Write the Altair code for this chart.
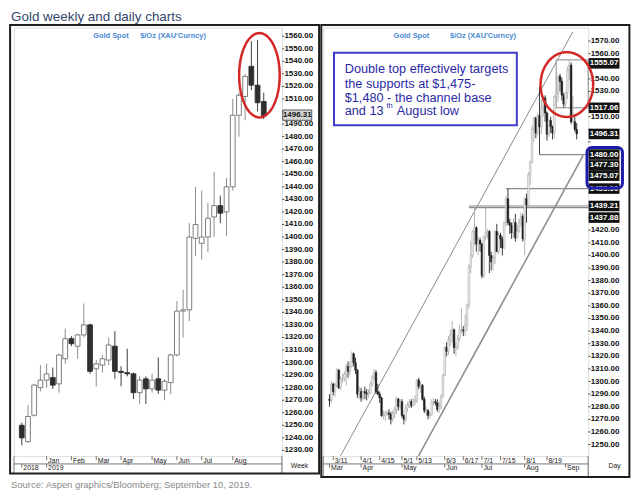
import altair as alt
import pandas as pd
import numpy as np

FONT = "Liberation Sans"

# ---------------- texts ----------------
title_text = "Gold weekly and daily charts"
source_text = "Source: Aspen graphics/Bloomberg; September 10, 2019."
header_a = "Gold  Spot"
header_b = "$/Oz  (XAU'Curncy)"
note_lines = ["Double top effectively targets", "the supports at $1,475-", "$1,480 - the channel base"]
note_last = ["and 13", "th", "August low"]

# ---------------- weekly candles (weeks from Mon 10 Dec 2018) ----------------
wk_open = [1250, 1237, 1258, 1280, 1286, 1288, 1283, 1303, 1319, 1313, 1322, 1330, 1295, 1298, 1302, 1313, 1293, 1292, 1291, 1276,
           1287, 1279, 1287, 1278, 1284, 1306, 1341, 1342, 1399, 1395, 1400, 1416, 1425, 1420, 1440, 1497, 1512, 1536, 1521, 1508]
wk_high = [1252, 1266, 1283, 1298, 1299, 1296, 1307, 1327, 1321, 1323, 1347, 1331, 1302, 1306, 1320, 1325, 1297, 1311, 1292, 1289,
           1289, 1291, 1304, 1287, 1307, 1349, 1358, 1411, 1440, 1437, 1427, 1452, 1433, 1447, 1510, 1515, 1530, 1556, 1557, 1515]
wk_low = [1234, 1236, 1257, 1277, 1280, 1279, 1276, 1299, 1313, 1303, 1320, 1291, 1281, 1292, 1298, 1287, 1281, 1289, 1271, 1267,
          1267, 1276, 1275, 1270, 1275, 1305, 1320, 1333, 1385, 1382, 1388, 1400, 1411, 1401, 1437, 1480, 1493, 1517, 1500, 1494]
wk_close = [1240, 1257, 1282, 1286, 1291, 1282, 1306, 1319, 1315, 1322, 1330, 1293, 1299, 1303, 1314, 1293, 1292, 1291, 1276, 1286,
            1279, 1286, 1278, 1285, 1306, 1341, 1342, 1400, 1410, 1400, 1415, 1425, 1419, 1440, 1497, 1513, 1528, 1521, 1507, 1496.31]
wk_month_labels = ["Jan", "Feb", "Mar", "Apr", "May", "Jun", "Jul", "Aug"]
wk_month_pos = [4, 8, 12, 16, 21, 25, 29, 34]
wk_year_labels = ["2018", "2019"]
wk_year_pos = [0, 4]
wk_ticks = list(range(1230, 1561, 10))
wk_hidden = [1500]                      # tick labels covered by the price tag
wk_last_val = [1496.31]
wk_last_txt = ["1496.31"]

# ---------------- daily bars (7 Mar - 10 Sep 2019) ----------------
d_open = ([1286, 1285, 1298, 1292, 1297, 1309, 1295, 1302, 1302, 1306, 1312, 1308, 1312, 1322, 1315, 1309, 1290]
          + [1292, 1287, 1292, 1291, 1290, 1291, 1298, 1303, 1307, 1292, 1290, 1287, 1273, 1273, 1275, 1275, 1274, 1270, 1275, 1278, 1286, 1280]
          + [1284, 1273, 1270, 1279, 1281, 1284, 1281, 1284, 1285, 1301, 1296, 1297, 1286, 1277, 1277, 1273, 1274, 1283, 1284, 1283, 1278, 1280, 1288]
          + [1305, 1327, 1324, 1333, 1337, 1341, 1327, 1327, 1334, 1341, 1341, 1340, 1345, 1361, 1391, 1400, 1419, 1422, 1409, 1412]
          + [1409, 1384, 1415, 1418, 1419, 1400, 1395, 1398, 1419, 1403, 1416, 1413, 1406, 1426, 1445, 1426, 1424, 1418, 1426, 1414, 1419, 1426, 1431]
          + [1413, 1445, 1440, 1464, 1474, 1500, 1509, 1497, 1511, 1502, 1517, 1525, 1513, 1496, 1507, 1502, 1497, 1526, 1528, 1542, 1538, 1527]
          + [1520, 1529, 1547, 1551, 1506, 1506, 1500])
d_high = ([1290, 1300, 1299, 1299, 1311, 1310, 1304, 1306, 1308, 1314, 1316, 1316, 1324, 1323, 1319, 1310, 1296]
          + [1295, 1293, 1296, 1294, 1294, 1300, 1305, 1310, 1309, 1298, 1292, 1288, 1277, 1277, 1277, 1278, 1276, 1277, 1280, 1288, 1287, 1286]
          + [1286, 1274, 1282, 1284, 1286, 1286, 1287, 1289, 1302, 1303, 1300, 1298, 1288, 1280, 1278, 1276, 1286, 1287, 1286, 1286, 1284, 1290, 1306]
          + [1328, 1331, 1336, 1341, 1348, 1342, 1331, 1337, 1345, 1358, 1344, 1353, 1362, 1393, 1411, 1420, 1439.21, 1423, 1415, 1414]
          + [1410, 1415, 1437.88, 1421, 1420, 1403, 1400, 1420, 1425, 1418, 1418, 1415, 1427, 1447, 1453, 1429, 1426, 1429, 1433, 1424, 1429, 1434, 1433]
          + [1446, 1449, 1466, 1475, 1503, 1510, 1510, 1513, 1534, 1524, 1525, 1527, 1514, 1508, 1510, 1503, 1527, 1555.07, 1543, 1544, 1541, 1529]
          + [1530, 1550, 1556, 1553, 1526, 1510, 1505])
d_low = ([1280, 1283, 1289, 1288, 1295, 1294, 1293, 1299, 1300, 1297, 1303, 1305, 1311, 1312, 1306, 1287, 1286]
         + [1284, 1285, 1286, 1285, 1287, 1290, 1296, 1301, 1290, 1289, 1283, 1272, 1270, 1269, 1273, 1270, 1266, 1268, 1271, 1274, 1277, 1278]
         + [1271, 1266, 1268, 1276, 1279, 1279, 1280, 1281, 1283, 1294, 1291, 1285, 1275, 1273, 1270, 1271, 1273, 1281, 1281, 1276, 1275, 1278, 1287]
         + [1304, 1320, 1321, 1328, 1331, 1322, 1320, 1325, 1332, 1338, 1336, 1336, 1340, 1358, 1386, 1398, 1408, 1403, 1400, 1403]
         + [1382, 1382, 1412, 1413, 1386, 1388, 1388, 1393, 1403, 1401, 1406, 1400, 1405, 1423, 1424, 1417, 1413, 1414, 1411, 1413, 1418, 1423, 1411]
         + [1400, 1426, 1438, 1456, 1473, 1490, 1493, 1495, 1480, 1496, 1510, 1506, 1491, 1494, 1497, 1492, 1493, 1519, 1522, 1530, 1523, 1517.06]
         + [1518, 1524, 1539, 1504, 1506, 1498, 1492])
d_close = ([1285, 1298, 1292, 1297, 1309, 1295, 1302, 1302, 1306, 1312, 1308, 1312, 1322, 1315, 1309, 1290, 1292]
           + [1287, 1292, 1291, 1290, 1291, 1298, 1303, 1307, 1292, 1290, 1287, 1273, 1273, 1275, 1275, 1274, 1270, 1275, 1278, 1286, 1280, 1284]
           + [1273, 1270, 1279, 1281, 1284, 1281, 1284, 1285, 1301, 1296, 1297, 1286, 1277, 1277, 1273, 1274, 1283, 1284, 1283, 1278, 1280, 1288, 1305]
           + [1327, 1324, 1333, 1337, 1341, 1327, 1327, 1334, 1341, 1341, 1340, 1345, 1361, 1391, 1400, 1419, 1422, 1409, 1412, 1409]
           + [1384, 1415, 1418, 1419, 1400, 1395, 1398, 1419, 1403, 1416, 1413, 1406, 1426, 1445, 1426, 1424, 1418, 1426, 1414, 1419, 1426, 1431, 1413]
           + [1445, 1440, 1464, 1474, 1500, 1509, 1497, 1511, 1502, 1517, 1525, 1513, 1496, 1507, 1502, 1497, 1526, 1528, 1542, 1538, 1527, 1520]
           + [1529, 1547, 1551, 1506, 1506, 1500, 1496.31])
d_dates = pd.bdate_range("2019-03-07", "2019-09-10")
day_date_labels = ["3/11", "4/1", "4/15", "5/1", "5/13", "6/3", "6/17", "7/1", "7/15", "8/1", "8/19"]
day_date_days = ["2019-03-11", "2019-04-01", "2019-04-15", "2019-05-01", "2019-05-13", "2019-06-03",
                 "2019-06-17", "2019-07-01", "2019-07-15", "2019-08-01", "2019-08-19"]
day_month_labels = ["Mar", "Apr", "May", "Jun", "Jul", "Aug", "Sep"]
day_month_days = ["2019-03-07", "2019-04-01", "2019-05-01", "2019-06-03", "2019-07-01", "2019-08-01", "2019-09-02"]
day_ticks = list(range(1250, 1571, 10))
day_hidden = [1550, 1520, 1500, 1490, 1480, 1470, 1460, 1450, 1440, 1430]   # covered by price tags

# support / resistance levels (start day, level)
sup_start = ["2019-08-13", "2019-07-18", "2019-06-20", "2019-06-20"]
sup_level = [1480.00, 1453.00, 1439.21, 1437.88]
box_start = ["2019-08-26"]
box_lo = [1517.06]
box_hi = [1555.07]
# channel lines (trading-day index, price)
chan_up_i = [3.9, 128.9]
chan_up_p = [1241.0, 1577.3]
chan_lo_i = [45.9, 134.5]
chan_lo_p = [1241.0, 1479.3]
# highlighted price labels on the daily axis
r_lab_val = [1555.07, 1517.06, 1496.31, 1480.00, 1477.30, 1475.07, 1453.00, 1439.21, 1437.88]
r_lab_txt = ["1555.07", "1517.06", "1496.31", "1480.00", "1477.30", "1475.07", "1453.00", "1439.21", "1437.88"]
# ellipse annotations: centre (x index, price), half-width (index units), half-height (price)
ell_left = (38.3, 1528.9, 3.27, 33.6)
ell_right = (125.7, 1535.5, 14.15, 25.7)

# ---------------- frames ----------------
for arr in (d_high, d_low, d_close):
    assert len(arr) == len(d_open) == len(d_dates)
ref = list(d_dates).index(pd.Timestamp("2019-03-11"))


def day_idx(s):
    return list(d_dates).index(pd.Timestamp(s)) - ref


wk = pd.DataFrame({"i": list(range(len(wk_open))), "open": wk_open, "high": wk_high,
                   "low": wk_low, "close": wk_close})
daily = pd.DataFrame({"i": [k - ref for k in range(len(d_dates))], "open": d_open, "high": d_high,
                      "low": d_low, "close": d_close})

LW, LH = 269.7, 431.5
RW, RH = 266.6, 431.5
LX = alt.Scale(domain=[-0.46, 41.13], nice=False, zero=False)
LY = alt.Scale(domain=[1225.4, 1567.0], nice=False, zero=False)
RX = alt.Scale(domain=[-2.68, 134.5], nice=False, zero=False)
RY = alt.Scale(domain=[1240.8, 1580.8], nice=False, zero=False)
one = pd.DataFrame({"k": [0]})
UP = "datum.close >= datum.open"


def deco_rect(x1, x2, y1, y2, **kw):
    return alt.Chart(one).mark_rect(**kw).encode(x=alt.value(x1), x2=alt.value(x2),
                                                 y=alt.value(y1), y2=alt.value(y2))


def deco_text(txt, x, y, **kw):
    return alt.Chart(one).mark_text(text=txt, **kw).encode(x=alt.value(x), y=alt.value(y))


def hrule(x1, x2, y, **kw):
    return alt.Chart(one).mark_rule(**kw).encode(x=alt.value(x1), x2=alt.value(x2), y=alt.value(y))


def vrule(x, y1, y2, **kw):
    return alt.Chart(one).mark_rule(**kw).encode(x=alt.value(x), y=alt.value(y1), y2=alt.value(y2))


def price_axis(ticks, hidden, yscale, w):
    d = pd.DataFrame({"v": ticks})
    dl = pd.DataFrame({"v": [v for v in ticks if v not in hidden]})
    dl["t"] = [f"{v:.2f}" for v in dl["v"]]
    tk = alt.Chart(d).mark_rule(color="#333", strokeWidth=0.8).encode(
        x=alt.value(w), x2=alt.value(w + 2.5), y=alt.Y("v:Q", scale=yscale, axis=None))
    lab = alt.Chart(dl).mark_text(font=FONT, fontSize=8, fontWeight="bold", color="#111",
                                  align="left", baseline="middle").encode(
        x=alt.value(w + 2.5), y=alt.Y("v:Q", scale=yscale, axis=None), text="t:N")
    return [tk, lab]


def ellipse(spec, xscale, yscale):
    cx, cy, rx, ry = spec
    t = np.linspace(0, 2 * np.pi, 73)
    d = pd.DataFrame({"o": np.arange(73), "x": cx + rx * np.cos(t), "y": cy + ry * np.sin(t)})
    return alt.Chart(d).mark_line(color="#d42828", strokeWidth=2.5).encode(
        x=alt.X("x:Q", scale=xscale, axis=None), y=alt.Y("y:Q", scale=yscale, axis=None), order="o:Q")


HDR = dict(font=FONT, fontSize=7.5, fontWeight="bold", color="#4a8ad4", align="left", baseline="middle")
TICKLAB = dict(font=FONT, fontSize=7, color="#222", align="left", baseline="middle", dx=1.5)

# ================= LEFT PANEL =================
l_wick = alt.Chart(wk).mark_rule(strokeWidth=1).encode(
    x=alt.X("i:Q", scale=LX, axis=None),
    y=alt.Y("low:Q", scale=LY, axis=None),
    y2="high:Q",
    color=alt.condition(UP, alt.value("#8c8c8c"), alt.value("#3c3c3c")))
l_body = alt.Chart(wk).mark_bar(size=4.8, strokeWidth=0.9).encode(
    x=alt.X("i:Q", scale=LX, axis=None),
    y=alt.Y("open:Q", scale=LY, axis=None),
    y2="close:Q",
    fill=alt.condition(UP, alt.value("#ffffff"), alt.value("#2e2e2e")),
    stroke=alt.condition(UP, alt.value("#6e6e6e"), alt.value("#2e2e2e")))

wm = pd.DataFrame({"p": wk_month_pos, "t": wk_month_labels})
wy = pd.DataFrame({"p": wk_year_pos, "t": wk_year_labels})
l_mticks = alt.Chart(wm).mark_rule(color="#555", strokeWidth=0.8).encode(
    x=alt.X("p:Q", scale=LX, axis=None), y=alt.value(LH), y2=alt.value(LH + 4))
l_mlab = alt.Chart(wm).mark_text(**TICKLAB).encode(
    x=alt.X("p:Q", scale=LX, axis=None), y=alt.value(LH + 4.5), text="t:N")
l_yticks = alt.Chart(wy).mark_rule(color="#555", strokeWidth=0.8).encode(
    x=alt.X("p:Q", scale=LX, axis=None), y=alt.value(LH + 7.8), y2=alt.value(LH + 11.5))
l_ylab = alt.Chart(wy).mark_text(**TICKLAB).encode(
    x=alt.X("p:Q", scale=LX, axis=None), y=alt.value(LH + 12.2), text="t:N")

lb = pd.DataFrame({"v": wk_last_val, "t": wk_last_txt})
l_lastbox = alt.Chart(lb).mark_rect(fill="#d6d6d6", stroke="#333", strokeWidth=0.8,
                                    yOffset=-6.2, y2Offset=4.2).encode(
    x=alt.value(LW + 0.8), x2=alt.value(LW + 30), y=alt.Y("v:Q", scale=LY, axis=None), y2="v:Q")
l_lasttxt = alt.Chart(lb).mark_text(font=FONT, fontSize=8, fontWeight="bold", color="#111", dy=-1,
                                    align="center", baseline="middle").encode(
    x=alt.value(LW + 15.4), y=alt.Y("v:Q", scale=LY, axis=None), text="t:N")

left = alt.layer(
    l_wick, l_body,
    *price_axis(wk_ticks, wk_hidden, LY, LW),
    hrule(0, LW, LH + 7.8, color="#555", strokeWidth=0.8),
    vrule(0, LH, 449, color="#555", strokeWidth=0.8),
    vrule(LW, LH, 449, color="#444", strokeWidth=0.8),
    l_mticks, l_mlab, l_yticks, l_ylab,
    deco_text("Week", LW + 17.7, LH + 10, font=FONT, fontSize=7, color="#222", align="center", baseline="middle"),
    deco_text(header_a, 79.7, 8.3, **HDR),
    deco_text(header_b, 127.0, 8.3, **HDR),
    l_lastbox, l_lasttxt,
    deco_rect(-3.9, LW + 37.4, -2.5, 449, filled=False, stroke="#1e1e1e", strokeWidth=2),
    deco_text(title_text, -2.9, -17.5, font=FONT, fontSize=13.5, color="#34466b", align="left", baseline="top"),
    deco_text(source_text, -2.9, 460.4, font=FONT, fontSize=9.5, color="#8a8a8a", align="left", baseline="middle"),
    ellipse(ell_left, LX, LY),
).properties(width=LW, height=LH)

# ================= RIGHT PANEL =================
cu = pd.DataFrame({"i": chan_up_i, "p": chan_up_p})
cl = pd.DataFrame({"i": chan_lo_i, "p": chan_lo_p})
r_cu = alt.Chart(cu).mark_line(color="#8a8a8a", strokeWidth=1).encode(
    x=alt.X("i:Q", scale=RX, axis=None), y=alt.Y("p:Q", scale=RY, axis=None))
r_cl = alt.Chart(cl).mark_line(color="#8f8f8f", strokeWidth=1.6).encode(
    x=alt.X("i:Q", scale=RX, axis=None), y=alt.Y("p:Q", scale=RY, axis=None))

sup = pd.DataFrame({"s": [day_idx(s) for s in sup_start], "v": sup_level})
r_sup = alt.Chart(sup).mark_rule(color="#8a8a8a", strokeWidth=1.2).encode(
    x=alt.X("s:Q", scale=RX, axis=None), x2=alt.value(RW), y=alt.Y("v:Q", scale=RY, axis=None))
bx = pd.DataFrame({"s": [day_idx(s) for s in box_start], "lo": box_lo, "hi": box_hi})
r_box = alt.Chart(bx).mark_rect(filled=False, stroke="#8a8a8a", strokeWidth=1).encode(
    x=alt.X("s:Q", scale=RX, axis=None), x2=alt.value(RW),
    y=alt.Y("lo:Q", scale=RY, axis=None), y2="hi:Q")

r_wick = alt.Chart(daily).mark_rule(strokeWidth=1).encode(
    x=alt.X("i:Q", scale=RX, axis=None),
    y=alt.Y("low:Q", scale=RY, axis=None), y2="high:Q",
    color=alt.condition(UP, alt.value("#b4b4b4"), alt.value("#3a3a3a")))
r_body = alt.Chart(daily).mark_bar(size=1.7, strokeWidth=0.5).encode(
    x=alt.X("i:Q", scale=RX, axis=None),
    y=alt.Y("open:Q", scale=RY, axis=None), y2="close:Q",
    fill=alt.condition(UP, alt.value("#ececec"), alt.value("#1e1e1e")),
    stroke=alt.condition(UP, alt.value("#a6a6a6"), alt.value("#1e1e1e")))

dd = pd.DataFrame({"p": [day_idx(s) for s in day_date_days], "t": day_date_labels})
dm = pd.DataFrame({"p": [day_idx(s) for s in day_month_days], "t": day_month_labels})
r_dticks = alt.Chart(dd).mark_rule(color="#555", strokeWidth=0.8).encode(
    x=alt.X("p:Q", scale=RX, axis=None), y=alt.value(RH), y2=alt.value(RH + 4))
r_dlab = alt.Chart(dd).mark_text(**TICKLAB).encode(
    x=alt.X("p:Q", scale=RX, axis=None), y=alt.value(RH + 4.5), text="t:N")
r_mticks = alt.Chart(dm).mark_rule(color="#555", strokeWidth=0.8).encode(
    x=alt.X("p:Q", scale=RX, axis=None), y=alt.value(RH + 7.8), y2=alt.value(RH + 11.5))
r_mlab = alt.Chart(dm).mark_text(**TICKLAB).encode(
    x=alt.X("p:Q", scale=RX, axis=None), y=alt.value(RH + 12.2), text="t:N")

NOTE = dict(font=FONT, fontSize=12.8, color="#2a2aa5", align="left", baseline="middle")
note_layers = [deco_rect(10.8, 194.8, 25.4, 98.4, fill="white", stroke="#3c3cc8", strokeWidth=2)]
for txt, yy in zip(note_lines, [41.9, 56.5, 70.6]):
    note_layers.append(deco_text(txt, 21.6, yy, **NOTE))
note_layers.append(deco_text(note_last[0], 21.6, 84.3, **NOTE))
note_layers.append(deco_text(note_last[1], 63.6, 78.6, font=FONT, fontSize=7.5, color="#2a2aa5",
                             align="left", baseline="middle"))
note_layers.append(deco_text(note_last[2], 74.0, 84.3, **NOTE))

label_layers = []
lab_off = [3.5, 0, 0, 0, 7.5, 15, 0, 0, 10]
for val, txt, off in zip(r_lab_val, r_lab_txt, lab_off):
    d = pd.DataFrame({"v": [val], "t": [txt]})
    label_layers.append(alt.Chart(d).mark_rect(color="#111111", yOffset=off - 5.3, y2Offset=off + 5.3).encode(
        x=alt.value(RW + 0.5), x2=alt.value(RW + 31.5),
        y=alt.Y("v:Q", scale=RY, axis=None), y2="v:Q"))
    label_layers.append(alt.Chart(d).mark_text(dy=off, font=FONT, fontSize=8, fontWeight="bold", color="white",
                                               align="center", baseline="middle").encode(
        x=alt.value(RW + 16), y=alt.Y("v:Q", scale=RY, axis=None), text="t:N"))

right = alt.layer(
    r_cu, r_cl, r_sup, r_box, r_wick, r_body,
    *price_axis(day_ticks, day_hidden, RY, RW),
    hrule(0, RW, RH + 7.8, color="#555", strokeWidth=0.8),
    vrule(0, RH, 452.5, color="#555", strokeWidth=0.8),
    vrule(RW, RH, 452.5, color="#444", strokeWidth=0.8),
    r_dticks, r_dlab, r_mticks, r_mlab,
    deco_text("Day", RW + 26.6, RH + 10, font=FONT, fontSize=7, color="#222", align="center", baseline="middle"),
    deco_text(header_a, 70.8, 8.3, **HDR),
    deco_text(header_b, 127.6, 8.3, **HDR),
    *note_layers,
    *label_layers,
    deco_rect(265.4, 301.1, 120.8, 161.7, filled=False, stroke="#1c1ca8", strokeWidth=3, cornerRadius=5),
    deco_rect(-2, RW + 41.5, -2.5, 452.5, filled=False, stroke="#1e1e1e", strokeWidth=2),
    ellipse(ell_right, RX, RY),
).properties(width=RW, height=RH)

chart = alt.hconcat(left, right, spacing=41.3, bounds="flush").properties(
    padding=0, background="white"
).configure_view(stroke="#666", strokeWidth=1).configure(font=FONT)

chart.save("out.html", embed_options={"renderer": "svg", "actions": False})
